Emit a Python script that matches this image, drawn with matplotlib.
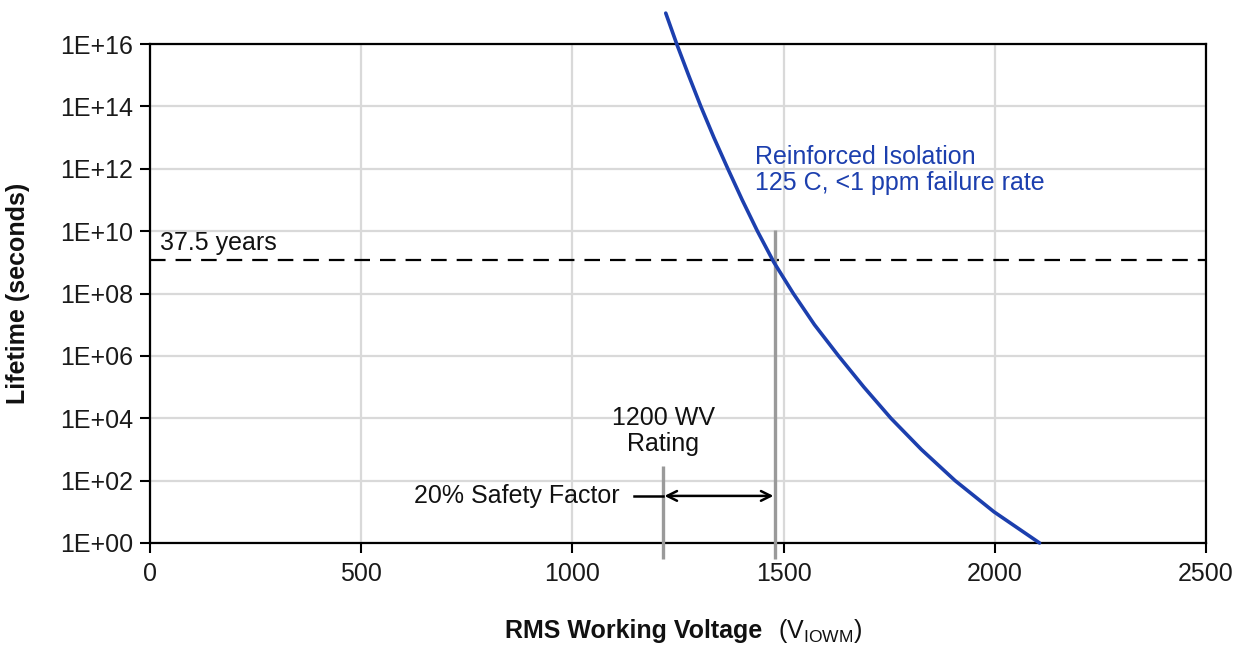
import numpy as np
import matplotlib
matplotlib.use("Agg")
import matplotlib.pyplot as plt
from matplotlib.ticker import FixedLocator, FuncFormatter

plt.rcParams['font.family'] = ['Liberation Sans', 'DejaVu Sans']

# Data
voltage = [1221, 1247, 1275, 1304, 1335, 1368, 1402, 1438, 1477, 1523, 1573,
           1630, 1690, 1754, 1826, 1906, 1998, 2106]
log_life = [16.99, 16, 15, 14, 13, 12, 11, 10, 9, 8, 7,
            6, 5, 4, 3, 2, 1, 0]
lifetime = [10 ** v for v in log_life]

x_ticks = [0, 500, 1000, 1500, 2000, 2500]
y_ticks = [1e0, 1e2, 1e4, 1e6, 1e8, 1e10, 1e12, 1e14, 1e16]
target_life = 37.5 * 365.25 * 86400  # 37.5 years in seconds
rating_v = 1215
safety_v = 1479

blue = '#1c3fae'
gray = '#9a9a9a'
fs = 18

fig = plt.figure(figsize=(12.33, 6.46), dpi=100)
ax = fig.add_axes([150 / 1233, 1 - 543 / 646, (1206 - 150) / 1233, (543 - 44) / 646])

ax.set_xlim(0, 2500)
ax.set_yscale('log')
ax.set_ylim(1e0, 1e16)
ax.xaxis.set_major_locator(FixedLocator(x_ticks))
ax.yaxis.set_major_locator(FixedLocator(y_ticks))
ax.yaxis.set_minor_locator(FixedLocator([]))
ax.yaxis.set_major_formatter(FuncFormatter(lambda v, p: "1E+%02d" % int(round(np.log10(v)))))
ax.tick_params(axis='both', labelsize=fs, direction='out', length=7, width=1.5,
               color='black', labelcolor='#1a1a1a')
ax.tick_params(axis='x', pad=7)
ax.tick_params(axis='y', pad=5)

ax.grid(True, color='#d9d9d9', linewidth=1.6, zorder=0)
ax.set_axisbelow(True)
for s in ax.spines.values():
    s.set_color('black')
    s.set_linewidth(1.6)

# dashed 37.5 years line
ax.axhline(target_life, color='black', linewidth=1.6, dashes=(7, 4.5), zorder=2)
ax.text(24, 10 ** 9.62, "37.5 years", fontsize=fs, ha='left', va='center', color='#111111')

# gray vertical markers
ax.plot([rating_v, rating_v], [10 ** 2.47, 10 ** -0.51], color=gray, linewidth=2.4,
        clip_on=False, zorder=3, solid_capstyle='butt')
ax.plot([safety_v, safety_v], [10 ** 10.04, 10 ** -0.51], color=gray, linewidth=2.4,
        clip_on=False, zorder=3, solid_capstyle='butt')

# safety factor arrow
y_arrow = 10 ** 1.51
ax.plot([1146, rating_v], [y_arrow, y_arrow], color='black', linewidth=1.8, zorder=4)
ax.annotate('', xy=(rating_v + 3, y_arrow), xytext=(safety_v - 3, y_arrow),
            arrowprops=dict(arrowstyle='<->, head_length=0.7, head_width=0.35',
                            color='black', lw=1.8, shrinkA=0, shrinkB=0), zorder=4)
ax.text(1111, y_arrow, "20% Safety Factor", fontsize=fs, ha='right', va='center',
        color='#111111')
ax.text(rating_v, 10 ** 3.59, "1200 WV\nRating", fontsize=fs, ha='center', va='center',
        color='#111111', linespacing=1.1)

# curve
ax.plot(voltage, lifetime, color=blue, linewidth=2.6, clip_on=False, zorder=5,
        solid_capstyle='round', solid_joinstyle='round')
ax.text(1433, 10 ** 11.96, "Reinforced Isolation\n125 C, <1 ppm failure rate",
        fontsize=fs, ha='left', va='center', color=blue, linespacing=1.15)

# axis labels
fig.text(18 / 1233, 1 - 293 / 646, "Lifetime (seconds)", rotation=90, fontsize=fs,
         fontweight='bold', ha='center', va='center', color='#111111')
fig.text(762 / 1233, 1 - 631 / 646, "RMS Working Voltage", fontsize=fs,
         fontweight='bold', ha='right', va='center', color='#111111')
fig.text(778 / 1233, 1 - 631 / 646, r"(V$_{\mathregular{IOWM}}$)", fontsize=fs,
         ha='left', va='center', color='#111111')

fig.savefig("out.png", dpi=100)
